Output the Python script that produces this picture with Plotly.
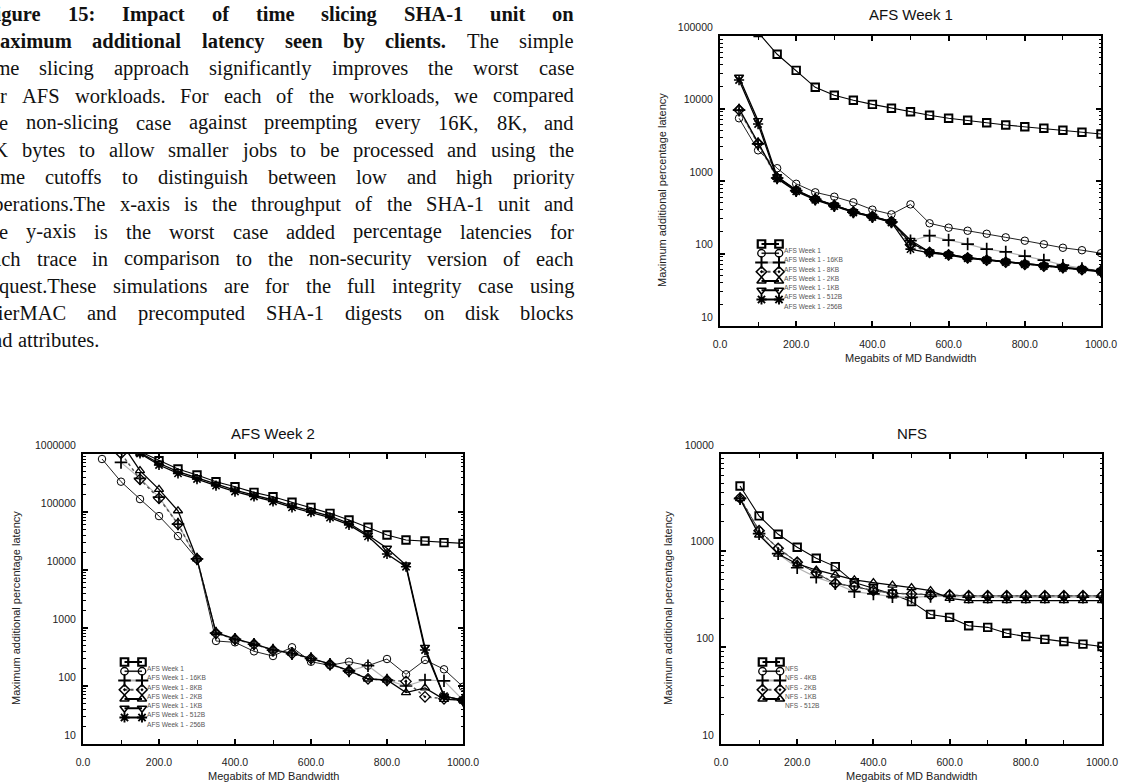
import plotly.graph_objects as go

FIG_W, FIG_H = 1121, 784

# ---------------- data ----------------
bandwidth = [50, 100, 150, 200, 250, 300, 350, 400, 450, 500,
             550, 600, 650, 700, 750, 800, 850, 900, 950, 1000]

# AFS Week 1
w1_none = [350000, 112000, 56000, 33600, 19600, 15200, 13000, 11400, 10100, 9040,
           8060, 7330, 6880, 6370, 5920, 5610, 5330, 5000, 4700, 4450]
w1_16kb = [7330, 2650, 1500, 915, 698, 607, 508, 402, 347, 476,
           261, 227, 206, 187, 167, 150, 134, 120, 111, 101]
w1_8kb = [9500, 3250, 1100, 735, 560, 457, 373, 322, 272, 150,
          176, 153, 135, 115, 105, 92, 81, 69, 62, 57]
w1_2kb = [9600, 3300, 1100, 735, 560, 457, 373, 322, 272, 132,
          104, 96, 87, 81, 76, 71, 67, 64, 60, 57]
w1_1kb = [10000, 3400, 1130, 745, 565, 462, 378, 326, 276, 140,
          105, 97, 88, 82, 77, 72, 68, 64, 61, 57]
w1_512b = [27000, 6800, 1150, 750, 568, 463, 378, 326, 276, 152,
           105, 97, 88, 82, 77, 72, 68, 64, 61, 57]
w1_256b = [24700, 6100, 1080, 720, 550, 450, 368, 318, 268, 115,
           102, 95, 86, 81, 76, 71, 67, 63, 60, 56]

# AFS Week 2
w2_none = [3500000, 2200000, 1100000, 767000, 551000, 434000, 333000, 273000, 218000, 183000,
           147000, 120000, 94800, 72700, 54500, 40100, 32900, 31600, 29600, 28800]
w2_16kb = [820000, 333000, 167000, 85000, 38500, 15500, 597, 566, 396, 329,
           465, 262, 227, 262, 224, 292, 159, 281, 194, 97]
w2_8kb = [None, 718000, 380000, 180000, 62000, 15500, 820, 640, 525, 415,
          362, 298, 237, 182, 224, 127, 100, 127, 123, 57]
w2_2kb = [2500000, 1030000, 366000, 172000, 62000, 15500, 815, 640, 525, 415,
          362, 298, 237, 182, 133, 126, 120, 65, 60, 57]
w2_1kb = [3000000, 1600000, 516000, 246000, 105000, 15500, 830, 650, 535, 420,
          368, 300, 240, 184, 132, 127, 77, 93, 59, 57]
w2_512b = [3000000, 1900000, 1050000, 692000, 495000, 391000, 300000, 239000, 196000, 161000,
           128000, 105000, 85300, 63800, 40100, 23700, 12200, 465, 67, 57]
w2_256b = [2800000, 1800000, 1020000, 646000, 464000, 370000, 285000, 225000, 185000, 152000,
           120000, 99000, 80000, 60000, 38000, 18900, 11400, 418, 67, 57]

# NFS
nfs_none = [4670, 2290, 1476, 1084, 834, 684, 467, 409, 357, 297,
            219, 204, 167, 161, 140, 129, 121, 115, 108, 102]
nfs_4kb = [3500, 1610, 1057, 759, 583, 459, 425, 386, 362, 357,
           348, 348, 340, 340, 340, 340, 340, 340, 340, 340]
nfs_2kb = [3450, 1500, 930, 666, 530, 455, 377, 357, 334, 329,
           336, 336, 330, 330, 330, 330, 330, 330, 330, 330]
nfs_1kb = [3500, 1610, 1057, 759, 590, 459, 425, 386, 362, 357,
           348, 348, 342, 342, 342, 342, 342, 342, 342, 342]
nfs_512b = [3450, 1452, 923, 728, 631, 560, 498, 467, 441, 414,
            386, 321, 304, 304, 304, 304, 304, 304, 304, 304]

afs1_labels = ["AFS Week 1", "AFS Week 1 - 16KB", "AFS Week 1 - 8KB", "AFS Week 1 - 2KB",
               "AFS Week 1 - 1KB", "AFS Week 1 - 512B", "AFS Week 1 - 256B"]
nfs_labels = ["NFS", "NFS - 4KB", "NFS - 2KB", "NFS - 1KB", "NFS - 512B"]

x_title = "Megabits of MD Bandwidth"
y_title = "Maximum additional percentage latency"

caption_lines = [
    ("Figure 15: Impact of time slicing SHA-1 unit on", 9),
    ("maximum additional latency seen by clients. The simple", 6),
    ("time slicing approach significantly improves the worst case", 0),
    ("for AFS workloads. For each of the workloads, we compared", 0),
    ("the non-slicing case against preempting every 16K, 8K, and", 0),
    ("1K bytes to allow smaller jobs to be processed and using the", 0),
    ("same cutoffs to distinguish between low and high priority", 0),
    ("operations.The x-axis is the throughput of the SHA-1 unit and", 0),
    ("the y-axis is the worst case added percentage latencies for", 0),
    ("each trace in comparison to the non-security version of each", 0),
    ("request.These simulations are for the full integrity case using", 0),
    ("HierMAC and precomputed SHA-1 digests on disk blocks", 0),
    ("and attributes.", 0),
]

# ---------------- styles ----------------
STYLES = {
    "sq":   dict(symbol="square-open", size=7.5, mlw=1.9, lc="black", lw=1.1, dash="solid", llw=2.0),
    "ci":   dict(symbol="circle-open", size=7.5, mlw=1.0, lc="#222222", lw=1.0, dash="solid", llw=1.6),
    "pl":   dict(symbol="cross-thin-open", size=9, mlw=1.7, lc="#b4b4b4", lw=1.2, dash="solid", llw=2.0),
    "di":   dict(symbol="diamond-open-dot", size=8, mlw=1.3, lc="#555555", lw=1.5, dash="dot", llw=2.2),
    "tu":   dict(symbol="triangle-up-open", size=8, mlw=1.3, lc="black", lw=1.3, dash="solid", llw=2.0),
    "td":   dict(symbol="triangle-down-open", size=8, mlw=1.3, lc="black", lw=1.3, dash="solid", llw=2.0),
    "st":   dict(symbol="asterisk-open", size=8.5, mlw=1.6, lc="black", lw=1.3, dash="solid", llw=2.0),
}

panels = [
    dict(title="AFS Week 1", box=(720, 1101, 36, 326), ytop=5, ytitle_x=662,
         series=[(afs1_labels[0], w1_none, "sq"), (afs1_labels[1], w1_16kb, "ci"),
                 (afs1_labels[2], w1_8kb, "pl"), (afs1_labels[3], w1_2kb, "di"),
                 (afs1_labels[4], w1_1kb, "tu"), (afs1_labels[5], w1_512b, "td"),
                 (afs1_labels[6], w1_256b, "st")]),
    dict(title="AFS Week 2", box=(83, 463, 454, 744), ytop=6, ytitle_x=16,
         series=[(afs1_labels[0], w2_none, "sq"), (afs1_labels[1], w2_16kb, "ci"),
                 (afs1_labels[2], w2_8kb, "pl"), (afs1_labels[3], w2_2kb, "di"),
                 (afs1_labels[4], w2_1kb, "tu"), (afs1_labels[5], w2_512b, "td"),
                 (afs1_labels[6], w2_256b, "st")]),
    dict(title="NFS", box=(721, 1102, 454, 744), ytop=4, ytitle_x=668,
         series=[(nfs_labels[0], nfs_none, "sq"), (nfs_labels[1], nfs_4kb, "ci"),
                 (nfs_labels[2], nfs_2kb, "pl"), (nfs_labels[3], nfs_1kb, "di"),
                 (nfs_labels[4], nfs_512b, "tu")]),
]

SANS = "Liberation Sans, Arial, sans-serif"
SERIF = "Liberation Serif, Times New Roman, serif"


def px(x):
    return x / FIG_W


def py(y):
    return 1 - y / FIG_H


fig = go.Figure()
layout = dict(width=FIG_W, height=FIG_H,
              margin=dict(l=0, r=0, t=0, b=0, autoexpand=False),
              paper_bgcolor="white", plot_bgcolor="rgba(0,0,0,0)", showlegend=False)
annotations = []

for i, p in enumerate(panels, start=1):
    x0, x1, y0, y1 = p["box"]
    bw, bh = x1 - x0, y1 - y0
    xdom = [px(x0), px(x1)]
    ydom = [py(y1), py(y0)]
    sfx = "" if i == 1 else str(i)
    lg = str(i + 3)
    layout["xaxis" + sfx] = dict(
        domain=xdom, anchor="y" + sfx, range=[0, 1000], dtick=200, tick0=0, tickformat=".1f",
        ticks="inside", ticklen=5, tickwidth=1.5, tickcolor="black",
        showline=True, linewidth=2, linecolor="black", mirror="ticks",
        showgrid=False, zeroline=False,
        minor=dict(dtick=100, ticks="inside", ticklen=4, tickwidth=1.2, tickcolor="black"),
        tickfont=dict(family=SANS, size=10.5, color="#222"), ticklabelstandoff=7)
    layout["yaxis" + sfx] = dict(
        domain=ydom, anchor="x" + sfx, type="log", range=[1, p["ytop"]], dtick=1, tickformat="d",
        ticks="inside", ticklen=5, tickwidth=1.5, tickcolor="black",
        showline=True, linewidth=2, linecolor="black", mirror="ticks",
        showgrid=False, zeroline=False,
        minor=dict(dtick="D1", ticks="inside", ticklen=2.5, tickwidth=1, tickcolor="black"),
        tickfont=dict(family=SANS, size=10.5, color="#222"),
        ticklabelshift=-9, ticklabelstandoff=3)
    # overlay axes in pixel units for the in-plot legend
    layout["xaxis" + lg] = dict(overlaying="x" + sfx, anchor="y" + lg, range=[0, bw],
                                visible=False, showgrid=False, zeroline=False)
    layout["yaxis" + lg] = dict(overlaying="y" + sfx, anchor="x" + lg, range=[bh, 0],
                                visible=False, showgrid=False, zeroline=False)

    for name, vals, sk in p["series"]:
        s = STYLES[sk]
        fig.add_trace(go.Scatter(
            x=bandwidth, y=vals, name=name, mode="lines+markers",
            xaxis="x" + sfx, yaxis="y" + sfx, connectgaps=False,
            line=dict(color=s["lc"], width=s["lw"], dash=s["dash"]),
            marker=dict(symbol=s["symbol"], size=s["size"], color="black",
                        line=dict(color="black", width=s["mlw"]))))

    # legend drawn inside the plot box
    for j, (name, vals, sk) in enumerate(p["series"]):
        s = STYLES[sk]
        ry = 208 + 9.25 * j
        fig.add_trace(go.Scatter(
            x=[41.5, 59], y=[ry, ry], mode="lines+markers", xaxis="x" + lg, yaxis="y" + lg,
            hoverinfo="skip",
            line=dict(color=s["lc"], width=s["llw"], dash=s["dash"]),
            marker=dict(symbol=s["symbol"], size=s["size"], color="black",
                        line=dict(color="black", width=s["mlw"] + 0.3))))
        annotations.append(dict(x=64, y=214.5 + 9.25 * j, xref="x" + lg, yref="y" + lg,
                                text=name, showarrow=False, xanchor="left", yanchor="middle",
                                font=dict(family=SANS, size=6.6, color="#555"),
                                borderpad=0, borderwidth=0))

    cx = (x0 + x1) / 2
    annotations.append(dict(x=px(cx), y=py(y0 - 21), xref="paper", yref="paper", text=p["title"],
                            showarrow=False, xanchor="center", yanchor="middle",
                            font=dict(family=SANS, size=15, color="#111")))
    annotations.append(dict(x=px(cx), y=py(y1 + 32), xref="paper", yref="paper", text=x_title,
                            showarrow=False, xanchor="center", yanchor="middle",
                            font=dict(family=SANS, size=11, color="#222")))
    annotations.append(dict(x=px(p["ytitle_x"]), y=py((y0 + y1) / 2 + 9), xref="paper", yref="paper",
                            text=y_title, textangle=-90, showarrow=False,
                            xanchor="center", yanchor="middle",
                            font=dict(family=SANS, size=11, color="#222")))

# ---------------- caption text (justified, Times metrics) ----------------
REG_W = dict(zip("abcdefghijklmnopqrstuvwxyz",
                 [444, 500, 444, 500, 444, 333, 500, 500, 278, 278, 500, 278, 778,
                  500, 500, 500, 500, 333, 389, 278, 500, 500, 722, 500, 500, 444]))
REG_W.update(zip("ABCDEFGHIJKLMNOPQRSTUVWXYZ",
                 [722, 667, 667, 722, 611, 556, 722, 722, 333, 389, 722, 611, 889,
                  722, 722, 556, 722, 667, 556, 611, 722, 722, 944, 722, 722, 611]))
REG_W.update({c: 500 for c in "0123456789"})
REG_W.update({".": 250, ",": 250, ":": 278, "-": 333})
BOLD_W = dict(zip("abcdefghijklmnopqrstuvwxyz",
                  [500, 556, 444, 556, 444, 333, 500, 556, 278, 333, 556, 278, 833,
                   556, 500, 556, 556, 444, 389, 333, 556, 500, 722, 500, 500, 444]))
BOLD_W.update(zip("ABCDEFGHIJKLMNOPQRSTUVWXYZ",
                  [722, 667, 722, 722, 667, 611, 778, 778, 389, 500, 778, 667, 944,
                   722, 778, 611, 778, 722, 556, 667, 722, 722, 1000, 722, 722, 667]))
BOLD_W.update({c: 500 for c in "0123456789"})
BOLD_W.update({".": 250, ",": 250, ":": 333, "-": 333})

FS = 20.5
L_EDGE, R_EDGE = -17, 574
LINE0, LINE_STEP = 14, 27.2


def wwidth(w, bold):
    tab = BOLD_W if bold else REG_W
    return sum(tab.get(c, 500) for c in w) * FS / 1000


for k, (text, nbold) in enumerate(caption_lines):
    words = text.split()
    flags = [j < nbold for j in range(len(words))]
    widths = [wwidth(w, b) for w, b in zip(words, flags)]
    if k < len(caption_lines) - 1 and len(words) > 1:
        gap = (R_EDGE - L_EDGE - sum(widths)) / (len(words) - 1)
    else:
        gap = 0.25 * FS
    xcur = L_EDGE
    yc = LINE0 + LINE_STEP * k
    for w, b, wd in zip(words, flags, widths):
        annotations.append(dict(x=px(xcur), y=py(yc), xref="paper", yref="paper",
                                text=f"<b>{w}</b>" if b else w, showarrow=False,
                                xanchor="left", yanchor="middle", borderpad=0, borderwidth=0,
                                font=dict(family=SERIF, size=FS, color="#111")))
        xcur += wd + gap

layout["annotations"] = annotations
fig.update_layout(**layout)
fig.write_html("out.html")
